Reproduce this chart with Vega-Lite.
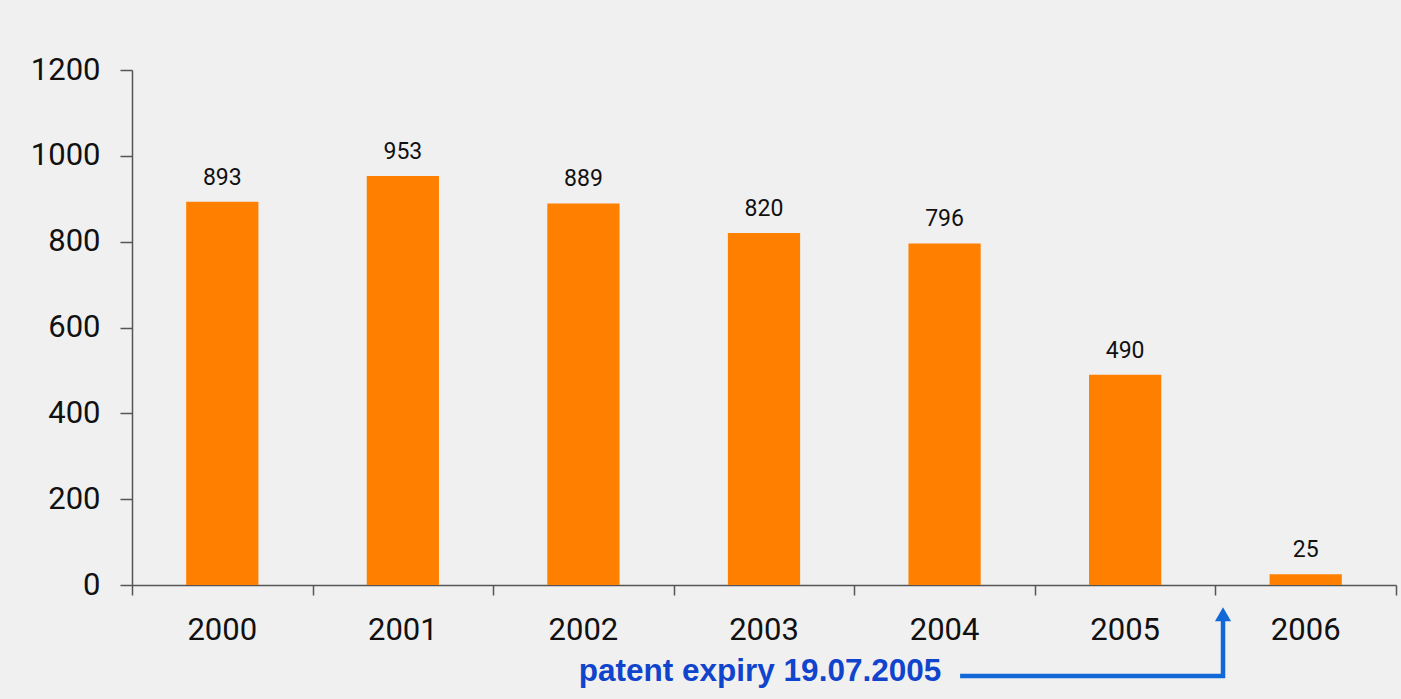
{
  "$schema": "https://vega.github.io/schema/vega-lite/v6.json",
  "autosize": "none",
  "width": 1264,
  "height": 515,
  "padding": {"left": 132, "top": 70, "right": 5, "bottom": 114},
  "background": "#f0f0f0",
  "config": {
    "view": {"stroke": null},
    "font": "Roboto"
  },
  "datasets": {
    "sales": [
      {"year": "2000", "value": 893},
      {"year": "2001", "value": 953},
      {"year": "2002", "value": 889},
      {"year": "2003", "value": 820},
      {"year": "2004", "value": 796},
      {"year": "2005", "value": 490},
      {"year": "2006", "value": 25}
    ],
    "arrow": [
      {"ax": 4.586, "ay": -212, "k": 1},
      {"ax": 6.042, "ay": -212, "k": 2},
      {"ax": 6.042, "ay": -80, "k": 3}
    ],
    "head": [{"ax": 6.042, "ay": -68}],
    "note": [{"ax": 3.478, "ay": -224, "label": "patent expiry 19.07.2005"}]
  },
  "layer": [
    {
      "data": {"name": "sales"},
      "layer": [
        {
          "mark": {"type": "bar", "color": "#ff8000"},
          "encoding": {
            "x": {
              "field": "year", "type": "nominal",
              "scale": {"paddingInner": 0.6, "paddingOuter": 0.3},
              "axis": {
                "title": null, "labelAngle": 0, "labelFontSize": 31, "labelColor": "#111",
                "labelPadding": 30, "ticks": false, "domain": false, "orient": "bottom"
              }
            },
            "y": {
              "field": "value", "type": "quantitative",
              "scale": {"domain": [0, 1200], "nice": false},
              "axis": {
                "title": null, "values": [0, 200, 400, 600, 800, 1000, 1200], "grid": false, "format": "d",
                "labelFontSize": 31, "labelColor": "#111", "labelPadding": 20, "tickSize": 12,
                "tickColor": "#555", "domainColor": "#555", "tickWidth": 1.5, "domainWidth": 1.5
              }
            }
          }
        },
        {
          "mark": {"type": "text", "fontSize": 23, "color": "#111", "baseline": "alphabetic", "dy": -17},
          "encoding": {
            "x": {"field": "year", "type": "nominal"},
            "y": {"field": "value", "type": "quantitative"},
            "text": {"field": "value", "type": "quantitative"}
          }
        }
      ]
    },
    {
      "data": {"name": "arrow"},
      "mark": {"type": "line", "color": "#1368d8", "strokeWidth": 4.5, "clip": false, "strokeJoin": "miter", "strokeCap": "butt"},
      "encoding": {
        "x": {"field": "ax", "type": "quantitative", "scale": {"domain": [0, 7], "nice": false, "zero": false},
          "axis": {"orient": "bottom", "title": null, "labels": false, "grid": false, "values": [0, 1, 2, 3, 4, 5, 6, 7],
            "tickSize": 10, "tickColor": "#555", "domainColor": "#555", "tickWidth": 1.5, "domainWidth": 1.5}},
        "y": {"field": "ay", "type": "quantitative"},
        "order": {"field": "k", "type": "quantitative"}
      }
    },
    {
      "data": {"name": "head"},
      "mark": {"type": "point", "shape": "triangle-up", "size": 260, "filled": true, "opacity": 1, "color": "#1368d8", "clip": false},
      "encoding": {
        "x": {"field": "ax", "type": "quantitative", "scale": {"domain": [0, 7], "nice": false, "zero": false}, "axis": null},
        "y": {"field": "ay", "type": "quantitative"}
      }
    },
    {
      "data": {"name": "note"},
      "mark": {"type": "text", "font": "Liberation Sans", "fontWeight": "bold", "fontSize": 31.5, "color": "#1044cc", "baseline": "alphabetic", "align": "center", "clip": false},
      "encoding": {
        "x": {"field": "ax", "type": "quantitative", "scale": {"domain": [0, 7], "nice": false, "zero": false}, "axis": null},
        "y": {"field": "ay", "type": "quantitative"},
        "text": {"field": "label", "type": "nominal"}
      }
    }
  ],
  "resolve": {"scale": {"x": "independent"}, "axis": {"x": "independent"}}
}
